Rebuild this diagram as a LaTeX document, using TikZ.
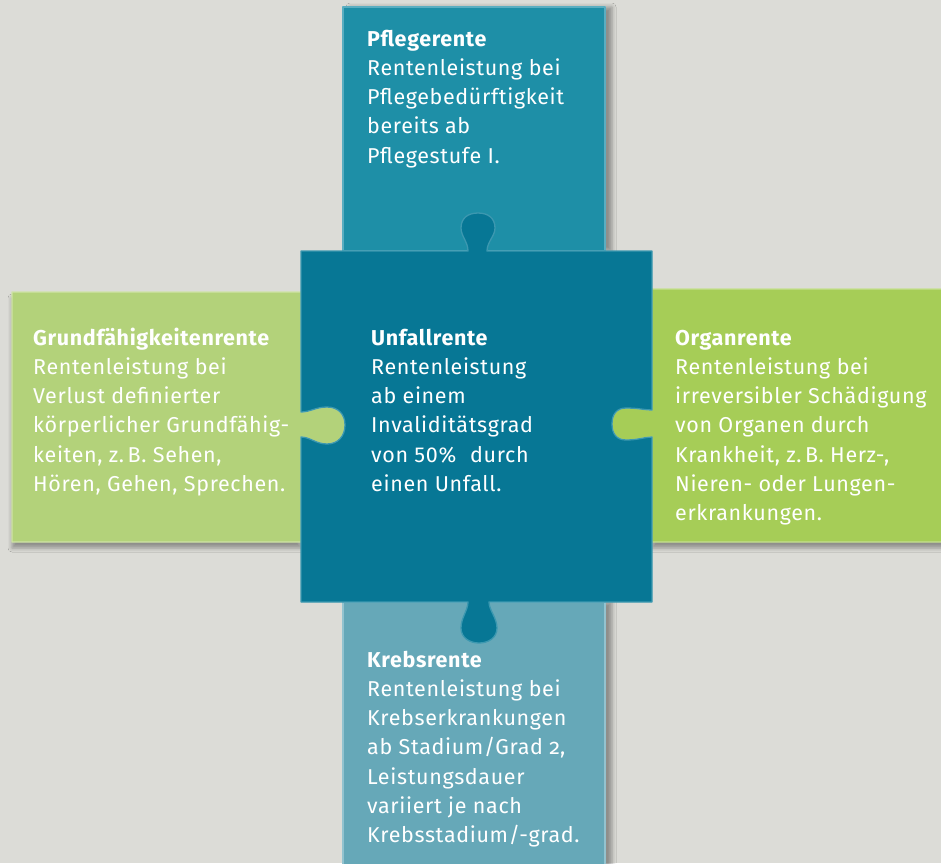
\documentclass[tikz,border=0pt]{standalone}
\usepackage{fontspec}
\setmainfont{Fira Sans}[LetterSpace=3]
\usetikzlibrary{shadows.blur}
\definecolor{bgc}{HTML}{DCDCD7}
\definecolor{topc}{HTML}{1E8FA7}
\definecolor{topl}{HTML}{5AAEC1}
\definecolor{cenc}{HTML}{077795}
\definecolor{cenl}{HTML}{3C98B0}
\definecolor{leftc}{HTML}{B3D27A}
\definecolor{leftl}{HTML}{CFE3A6}
\definecolor{rightc}{HTML}{A6CD57}
\definecolor{rightl}{HTML}{C6E090}
\definecolor{botc}{HTML}{66A8B8}
\definecolor{botl}{HTML}{93C3CF}
\tikzset{
  piece/.style={line width=1.3pt, line join=round},
  shadowv/.style={blur shadow={shadow xshift=0pt, shadow yshift=-6pt, shadow opacity=35, shadow blur radius=4pt}},
  shadowh/.style={blur shadow={shadow xshift=7pt, shadow yshift=0pt, shadow opacity=35, shadow blur radius=4pt}},
  txt/.style={anchor=base west, inner sep=0pt, text=white},
}
\newcommand{\boxtext}[2]{\parbox[t]{300pt}{\fontsize{21.5}{29.3}\selectfont\raggedright{\bfseries #1}\\#2}}
\begin{document}
\begin{tikzpicture}[x=1pt,y=-1pt]
\fill[bgc] (0,0) rectangle (941,863);
\useasboundingbox (0,0) rectangle (941,863);
% top piece
\path[piece, fill=topc, draw=topl, shadowh] (343,7) rectangle (605,251);
% bottom piece
\path[piece, fill=botc, draw=botl, shadowh] (343,602) rectangle (605,870);
% left piece
\path[piece, fill=leftc, draw=leftl, shadowv] (12,292) -- (301,292) -- (301,412)
  .. controls (310,412) and (316,407) .. (327,407)
  .. controls (338,407) and (345,414) .. (345,425)
  .. controls (345,436) and (338,444) .. (327,444)
  .. controls (316,444) and (310,437) .. (301,437)
  -- (301,542) -- (12,542) -- cycle;
% right piece
\path[piece, fill=rightc, draw=rightl, shadowv] (652,289) -- (945,289) -- (945,542) -- (652,542) -- (652,437)
  .. controls (645,437) and (638,440) .. (626,440)
  .. controls (617,440) and (612,434) .. (612,424)
  .. controls (612,414) and (617,408) .. (626,408)
  .. controls (638,408) and (645,410) .. (652,410) -- cycle;
% center piece
\path[piece, fill=cenc, draw=cenl] (301,251) -- (468,251)
  .. controls (468,242) and (461,236) .. (461,228)
  .. controls (461,218) and (468,213) .. (478,213)
  .. controls (488,213) and (495,218) .. (495,228)
  .. controls (495,236) and (487,242) .. (487,251)
  -- (652,251) -- (652,410)
  .. controls (645,410) and (638,408) .. (626,408)
  .. controls (617,408) and (612,414) .. (612,424)
  .. controls (612,434) and (617,440) .. (626,440)
  .. controls (638,440) and (645,437) .. (652,437)
  -- (652,602) -- (489,602)
  .. controls (489,610) and (497,618) .. (497,628)
  .. controls (497,638) and (488,643) .. (479,643)
  .. controls (470,643) and (461,638) .. (461,628)
  .. controls (461,618) and (468,610) .. (468,602)
  -- (301,602) -- (301,437)
  .. controls (310,437) and (316,444) .. (327,444)
  .. controls (338,444) and (345,436) .. (345,425)
  .. controls (345,414) and (338,407) .. (327,407)
  .. controls (316,407) and (310,412) .. (301,412) -- cycle;
% texts
\node[txt] (pflege) at (367,46) {\boxtext{Pflegerente}{Rentenleistung bei\\Pflegebedürftigkeit\\bereits ab\\Pflegestufe I.}};
\node[txt] (grund) at (33,345) {\boxtext{Grundfähigkeitenrente}{Rentenleistung bei\\Verlust definierter\\körperlicher Grundfähig-\\keiten, z.\,B. Sehen,\\Hören, Gehen, Sprechen.}};
\node[txt] (unfall) at (371,345) {\boxtext{Unfallrente}{Rentenleistung\\ab einem\\Invaliditätsgrad\\von 50\%\hspace{0.35em} durch\\einen Unfall.}};
\node[txt] (organ) at (675,345) {\boxtext{Organrente}{Rentenleistung bei\\irreversibler Schädigung\\von Organen durch\\Krankheit, z.\,B. Herz-,\\Nieren- oder Lungen-\\erkrankungen.}};
\node[txt] (krebs) at (367,667) {\boxtext{Krebsrente}{Rentenleistung bei\\Krebserkrankungen\\ab Stadium/Grad {\addfontfeature{Numbers=OldStyle}2},\\Leistungsdauer\\variiert je nach\\Krebsstadium/-grad.}};
\end{tikzpicture}
\end{document}
